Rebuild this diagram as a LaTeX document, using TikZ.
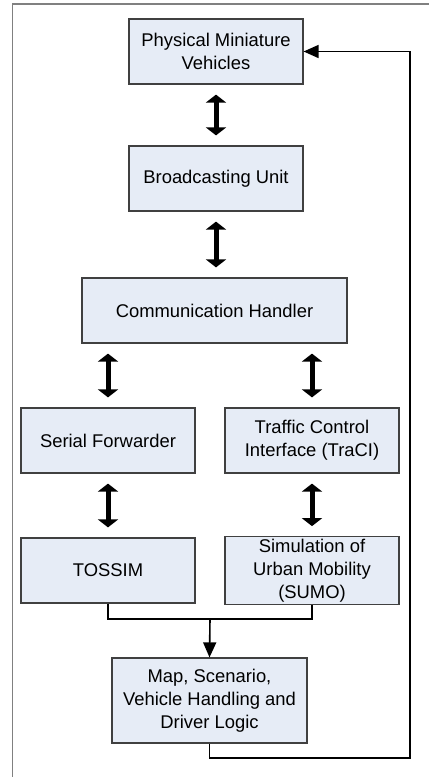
\documentclass[tikz,border=0pt]{standalone}
\usepackage{fontspec}
\setmainfont{Liberation Sans}
\usepackage{tikz}
\usetikzlibrary{arrows,arrows.meta,calc,positioning}
\definecolor{boksfyld}{RGB}{230,236,246}
\definecolor{kant}{RGB}{64,64,64}
\definecolor{ramme}{RGB}{128,128,128}
\tikzset{
    >=stealth',
    boks/.style={
           rectangle,
           draw=kant, line width=0.6pt,
           fill=boksfyld,
           minimum width=87pt,
           minimum height=32.5pt,
           inner sep=1pt,
           align=center,
           text centered},
    pil/.style={
           -{Triangle[width=6.5pt,length=7.5pt]},
           line width=0.8pt},
    streg/.style={
           line width=0.8pt},
    tykpil/.style={
           {Triangle[width=10pt,length=4pt]}-{Triangle[width=10pt,length=4pt]},
           line width=2.5pt,
           shorten <=5pt,
           shorten >=5pt},
    ramme/.style={
           draw=ramme, line width=0.8pt}
}

\begin{document}
\begin{tikzpicture}[x=0.5pt,y=-0.5pt]
          \fontsize{9.2pt}{11.6pt}\selectfont
          \useasboundingbox (0,0) rectangle (429,777);
          \draw[ramme] (12.5,777) |- (429,4);
          \node[boks](pmv) at (216,51.5) {Physical Miniature\\Vehicles};
          \node[boks](bcast) at (216,178.5) {Broadcasting Unit};
          \node[boks,minimum width=132.5pt](comm) at (214.5,310.5) {Communication Handler};
          \node[boks](serial) at (108,440.5) {Serial Forwarder};
          \node[boks](traci) at (312,440.5) {Traffic Control\\Interface (TraCI)};
          \node[boks](tossim) at (108,570.5) {TOSSIM};
          \node[boks](sumo) at (312,570.5) {Simulation of\\Urban Mobility\\(SUMO)};
          \node[boks,minimum width=97.5pt,minimum height=42.5pt](logic) at (209.5,700.5) {Map, Scenario,\\Vehicle Handling and\\Driver Logic};
          \coordinate (samle) at (210,619);
          \coordinate (retur) at (410,758);
          \draw[tykpil] (pmv.south -| bcast.north) -- (bcast.north);
          \draw[tykpil] (bcast.south) -- (bcast.south |- comm.north);
          \draw[tykpil] (serial.north |- comm.south) -- (serial.north);
          \draw[tykpil] (traci.north |- comm.south) -- (traci.north);
          \draw[tykpil] (serial.south) -- (tossim.north);
          \draw[tykpil] (traci.south) -- (sumo.north);
          \draw[streg] (tossim.south) |- (samle) -| (sumo.south);
          \draw[pil] (samle) -- (logic.north);
          \draw[pil] (logic.south) |- (retur) |- (pmv.east);
         \end{tikzpicture}
\end{document}
